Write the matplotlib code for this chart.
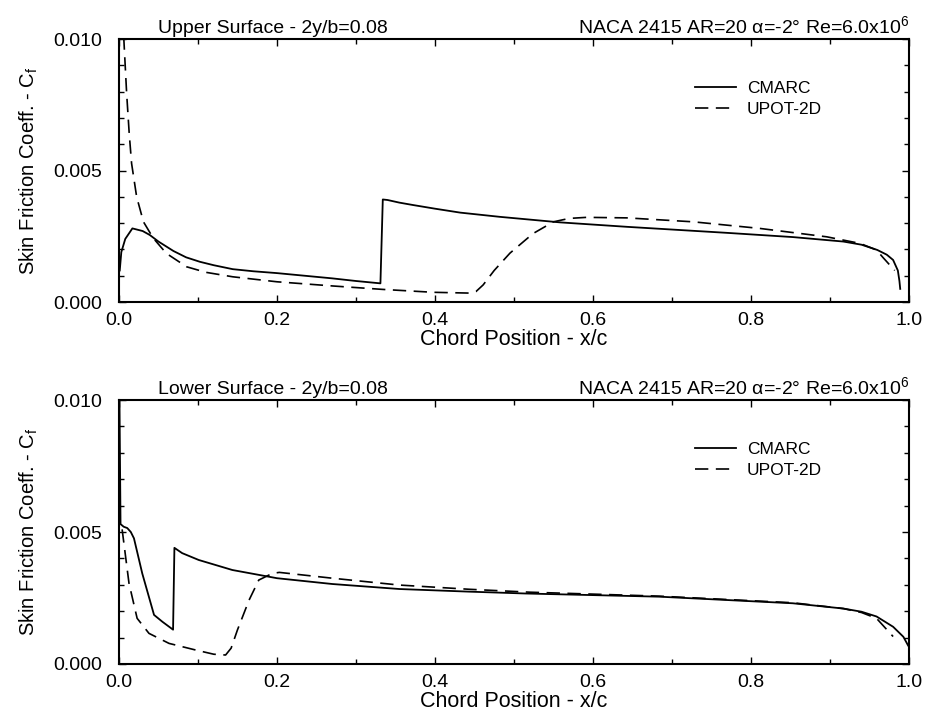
"""
Skin friction distribution, NACA 2415 wing section at 2y/b=0.08
CMARC panel code vs. UPOT-2D, upper and lower surface
"""
import matplotlib
matplotlib.use('Agg')
import matplotlib.pyplot as plt
from matplotlib.ticker import MultipleLocator

plt.rcParams['font.family'] = ['Liberation Sans', 'DejaVu Sans']
plt.rcParams['mathtext.fontset'] = 'custom'
plt.rcParams['mathtext.rm'] = 'Liberation Sans'
plt.rcParams['mathtext.it'] = 'Liberation Sans'

# 上表面 - CMARC
upper_cmarc_x = [0.001, 0.003, 0.008, 0.017, 0.030, 0.039, 0.050, 0.069, 0.085, 0.1025,
                 0.120, 0.144, 0.170, 0.200, 0.235, 0.270, 0.300, 0.331, 0.334, 0.340,
                 0.355, 0.372, 0.400, 0.432, 0.482, 0.558, 0.643, 0.770, 0.853, 0.917,
                 0.940, 0.960, 0.972, 0.980, 0.986, 0.988, 0.989]
upper_cmarc_cf = [0.0012, 0.0019, 0.0024, 0.0028, 0.0027, 0.00255, 0.0023, 0.00194, 0.0017, 0.00153,
                  0.0014, 0.00125, 0.00117, 0.0011, 0.0010, 0.0009, 0.0008, 0.00071, 0.0039, 0.00388,
                  0.00378, 0.00369, 0.00355, 0.0034, 0.00324, 0.00303, 0.00286, 0.00263, 0.00247, 0.0023,
                  0.00218, 0.00198, 0.0018, 0.0016, 0.0012, 0.0008, 0.0005]

# 上表面 - UPOT-2D
upper_upot_x = [0.006, 0.0097, 0.013, 0.016, 0.0224, 0.031, 0.0434, 0.060, 0.0857, 0.110,
                0.144, 0.200, 0.271, 0.334, 0.398, 0.444, 0.452, 0.461, 0.475, 0.495,
                0.524, 0.550, 0.570, 0.592, 0.643, 0.727, 0.811, 0.896, 0.938, 0.959,
                0.967, 0.982]
upper_upot_cf = [0.0101, 0.00795, 0.0064, 0.00527, 0.0040, 0.00305, 0.00243, 0.00185, 0.00134, 0.00113,
                 0.00096, 0.00077, 0.00061, 0.00048, 0.00037, 0.00034, 0.0004, 0.00065, 0.0012, 0.00186,
                 0.0026, 0.00305, 0.00318, 0.00322, 0.0032, 0.00305, 0.0028, 0.00248, 0.00223, 0.00198,
                 0.0017, 0.0012]

# 下表面 - CMARC
lower_cmarc_x = [0.0005, 0.002, 0.006, 0.0105, 0.015, 0.019, 0.0295, 0.0444, 0.055, 0.0685,
                 0.0702, 0.080, 0.101, 0.1436, 0.200, 0.270, 0.355, 0.4436, 0.515, 0.684,
                 0.853, 0.917, 0.940, 0.959, 0.980, 0.993, 0.999]
lower_cmarc_cf = [0.0105, 0.0053, 0.0052, 0.00515, 0.0050, 0.00476, 0.00343, 0.00186, 0.0016, 0.0013,
                  0.0044, 0.0042, 0.00394, 0.00356, 0.00325, 0.00303, 0.00284, 0.00274, 0.00267, 0.00255,
                  0.0023, 0.0021, 0.00198, 0.0018, 0.00141, 0.00103, 0.0007]

# 下表面 - UPOT-2D
lower_upot_x = [0.004, 0.0127, 0.023, 0.038, 0.0634, 0.097, 0.120, 0.135, 0.142, 0.150,
                0.1647, 0.177, 0.194, 0.203, 0.270, 0.355, 0.4436, 0.520, 0.684, 0.853,
                0.917, 0.940, 0.959, 0.980]
lower_upot_cf = [0.0051, 0.00306, 0.00173, 0.00116, 0.00078, 0.00053, 0.00037, 0.00034, 0.0006, 0.00129,
                 0.00242, 0.00318, 0.00343, 0.00347, 0.00325, 0.00299, 0.00283, 0.00272, 0.00257, 0.00232,
                 0.0021, 0.00195, 0.00173, 0.00104]

case_label = r'NACA 2415 AR=20 α=-2° Re=6.0x10$^{6}$'
panels = [
    ('Upper Surface - 2y/b=0.08', upper_cmarc_x, upper_cmarc_cf, upper_upot_x, upper_upot_cf),
    ('Lower Surface - 2y/b=0.08', lower_cmarc_x, lower_cmarc_cf, lower_upot_x, lower_upot_cf),
]

fig = plt.figure(figsize=(9.25, 7.1), dpi=100)
ax_upper = fig.add_axes([0.1286, 0.5746, 0.854, 0.3704])
ax_lower = fig.add_axes([0.1286, 0.0648, 0.854, 0.3718])

for ax, (surface, cx, cy, ux, uy) in zip([ax_upper, ax_lower], panels):
    ax.plot(cx, cy, color='black', linewidth=1.3, label='CMARC')
    ax.plot(ux, uy, color='black', linewidth=1.2, linestyle=(0, (8, 4.5)), label='UPOT-2D')

    ax.set_xlim(0.0, 1.0)
    ax.set_ylim(0.0, 0.010)
    ax.xaxis.set_major_locator(MultipleLocator(0.2))
    ax.xaxis.set_minor_locator(MultipleLocator(0.1))
    ax.yaxis.set_major_locator(MultipleLocator(0.005))
    ax.yaxis.set_minor_locator(MultipleLocator(0.001))
    ax.xaxis.set_major_formatter(plt.FormatStrFormatter('%.1f'))
    ax.yaxis.set_major_formatter(plt.FormatStrFormatter('%.3f'))
    ax.tick_params(which='both', direction='in', top=True, right=True, width=1.0)
    ax.tick_params(which='major', length=5, labelsize=14)
    ax.tick_params(axis='y', which='major', pad=12)
    ax.tick_params(axis='x', which='major', pad=7)
    ax.tick_params(which='minor', length=3.5)
    for sp in ax.spines.values():
        sp.set_linewidth(1.5)

    ax.set_xlabel('Chord Position - x/c', fontsize=15.5, labelpad=0)
    ax.set_ylabel('Skin Friction Coeff. - C$_{f}$', fontsize=14.5, labelpad=10)

    ax.text(0.05, 1.008, surface, transform=ax.transAxes, fontsize=14, ha='left', va='bottom')
    ax.text(1.0, 1.008, case_label, transform=ax.transAxes, fontsize=14, ha='right', va='bottom')

    ax.legend(loc='upper left', bbox_to_anchor=(0.72, 0.869), frameon=False, fontsize=12.5,
              handlelength=2.4, handletextpad=0.6, labelspacing=0.35, borderaxespad=0)

plt.savefig('out.png', dpi=100)
